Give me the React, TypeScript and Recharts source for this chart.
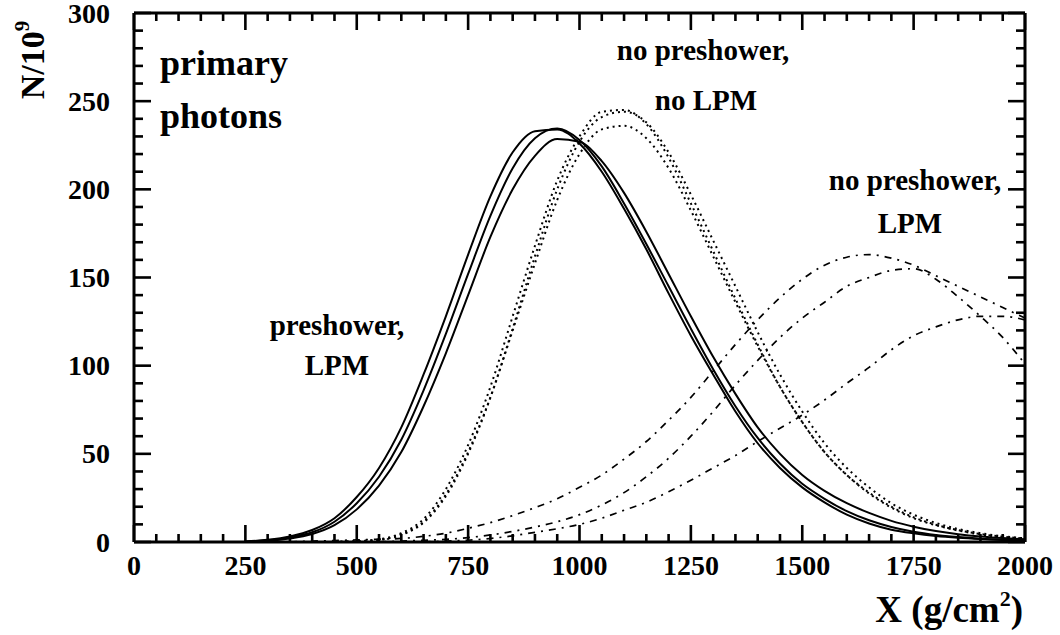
import { LineChart, Line, XAxis, YAxis, ReferenceLine, Customized } from 'recharts'

// depth grid (g/cm2), one row per 50
const DEPTH = [
  0, 50, 100, 150, 200, 250, 300, 350, 400, 450, 500, 550, 600, 650, 700, 750, 800, 850, 900, 950, 1000,
  1050, 1100, 1150, 1200, 1250, 1300, 1350, 1400, 1450, 1500, 1550, 1600, 1650, 1700, 1750, 1800, 1850,
  1900, 1950, 2000,
]

// preshower, LPM (solid)
const PRE_1 = [
  null, null, null, null, null, 0.3, 1.3, 3.2, 6.8, 13.5, 25.5, 42, 65, 95, 128, 163, 196, 221, 233, 234, 226,
  210, 189, 166, 141, 117, 95, 74, 56, 42, 31, 22.5, 15.5, 10.5, 7, 4.9, 3.4, 2.4, 1.7, 1.2, 0.8,
]
const PRE_2 = [
  null, null, null, null, null, 0.2, 1, 2.6, 5.5, 11.5, 22, 37, 58, 86, 118, 152, 185, 212, 229, 234.5, 228,
  213, 192, 169, 145, 121, 98, 77, 59, 44.5, 33, 24.5, 17.5, 12.3, 8.5, 5.8, 4, 2.8, 1.9, 1.3, 0.9,
]
const PRE_3 = [
  null, null, null, null, null, 0.1, 0.7, 2, 4.5, 9.5, 18.5, 32, 51, 77, 107, 140, 173, 200, 219, 228.5, 227,
  216, 198, 176, 152, 128, 105, 84, 65, 50, 38, 29, 22, 16.5, 12, 8.7, 6.2, 4.4, 3.1, 2.2, 1.5,
]

// no preshower, no LPM (dotted)
const NOLPM_1 = [
  null, null, null, null, null, null, null, null, null, 0, 0.5, 1.5, 5, 13, 30, 55, 88, 128, 168, 205, 230,
  244, 245, 237, 218, 192, 165, 138, 112, 88, 68, 51, 38, 27.5, 19.5, 13.5, 9.5, 6.5, 4.3, 2.8, 1.8,
]
const NOLPM_2 = [
  null, null, null, null, null, null, null, null, null, 0, 0.4, 1.2, 4, 11, 26, 50, 82, 121, 162, 200, 227,
  241, 244, 238, 221, 197, 171, 145, 119, 95, 74, 56, 42, 31, 22, 15.5, 10.8, 7.4, 5, 3.3, 2.1,
]
const NOLPM_3 = [
  null, null, null, null, null, null, null, null, null, 0, 0.4, 1.3, 4.3, 11.5, 27, 51, 82, 120, 158, 194, 220,
  234, 236, 229, 212, 188, 162, 136, 111, 88, 68, 51, 38, 28, 20, 14, 9.8, 6.7, 4.5, 3, 1.9,
]

// no preshower, LPM (dash-dot)
const LPM_1 = [
  null, null, null, null, null, null, null, 0, 0.5, 0.8, 1.2, 1.6, 2, 3.2, 5, 7.8, 11, 15, 19.5, 24.5, 31,
  38, 47, 57, 69, 82, 97, 112, 126, 138.5, 149, 157, 161.5, 163, 161, 157, 151, 145, 139, 133, 127,
]
const LPM_2 = [
  null, null, null, null, null, null, null, null, null, null, null, 0, 0.5, 1, 1.5, 2.5, 4, 6, 8.5, 11.5, 15.5,
  21, 28, 37, 47.5, 60, 74, 89, 103, 116, 127, 136, 145, 150, 154, 155, 149, 139, 128, 116, 101,
]
const LPM_3 = [
  null, null, null, null, null, null, null, null, null, null, null, null, null, 0, 0.5, 1, 2, 3.5, 5.5, 7.5, 10,
  13.5, 18, 22.5, 28.5, 35, 42, 49, 57, 64.5, 72, 80.5, 90, 99, 109, 117, 122, 126, 128, 128, 126,
]

const X_MINOR = DEPTH
const X_LABELS = [0, 250, 500, 750, 1000, 1250, 1500, 1750, 2000]
const Y_MINOR = Array.from({ length: 31 }, (_, i) => i * 10)
const Y_LABELS = [0, 50, 100, 150, 200, 250, 300]

const DATA = DEPTH.map((x, i) => ({
  x,
  p1: PRE_1[i],
  p2: PRE_2[i],
  p3: PRE_3[i],
  n1: NOLPM_1[i],
  n2: NOLPM_2[i],
  n3: NOLPM_3[i],
  l1: LPM_1[i],
  l2: LPM_2[i],
  l3: LPM_3[i],
}))

const W = 1060
const H = 635
const LEFT = 134
const TOP = 13
const RIGHT = 1025
const BOTTOM = 542
const X_AXIS_H = 30
const Y_AXIS_W = 60
const FONT = '"Liberation Serif", "Times New Roman", serif'
const TW = 2.6 // tick thickness

function XLabel({ x, payload }: any) {
  return (
    <text x={x} y={575} textAnchor="middle" fontFamily={FONT} fontWeight="bold" fontSize={28} fill="#000">
      {payload.value}
    </text>
  )
}

function YLabel({ y, payload }: any) {
  return (
    <text x={110} y={y + 9.5} textAnchor="end" fontFamily={FONT} fontWeight="bold" fontSize={28} fill="#000">
      {payload.value}
    </text>
  )
}

// inward ticks on all four edges of the frame, laid over the chart as filled bars
function FrameTicks() {
  const sx = (RIGHT - LEFT) / 2000
  const sy = (BOTTOM - TOP) / 300
  return (
    <svg
      width={W}
      height={H}
      style={{ position: 'absolute', left: 0, top: 0, pointerEvents: 'none' }}
    >
      {X_MINOR.map((v) => {
        const px = LEFT + v * sx
        const len = X_LABELS.includes(v) ? 17 : 8
        return (
          <g key={`x${v}`} fill="#000">
            <rect x={px - TW / 2} y={TOP} width={TW} height={len} />
            <rect x={px - TW / 2} y={BOTTOM - len} width={TW} height={len} />
          </g>
        )
      })}
      {Y_MINOR.map((v) => {
        const py = BOTTOM - v * sy
        const len = Y_LABELS.includes(v) ? 17 : 9
        return (
          <g key={`y${v}`} fill="#000">
            <rect x={LEFT} y={py - TW / 2} width={len} height={TW} />
            <rect x={RIGHT - len} y={py - TW / 2} width={len} height={TW} />
          </g>
        )
      })}
    </svg>
  )
}

function Annotations() {
  const t = { fontFamily: FONT, fontWeight: 'bold' as const, fill: '#000' }
  return (
    <g>
      <text {...t} x={160} y={75} fontSize={36}>primary</text>
      <text {...t} x={160} y={128} fontSize={36}>photons</text>
      <text {...t} x={703} y={60} fontSize={29} textAnchor="middle">no preshower,</text>
      <text {...t} x={706} y={110} fontSize={29} textAnchor="middle">no LPM</text>
      <text {...t} x={915} y={190} fontSize={29} textAnchor="middle">no preshower,</text>
      <text {...t} x={910} y={233} fontSize={29} textAnchor="middle">LPM</text>
      <text {...t} x={337} y={335} fontSize={29} textAnchor="middle">preshower,</text>
      <text {...t} x={337} y={375} fontSize={29} textAnchor="middle">LPM</text>
      <text {...t} x={1023} y={622} fontSize={37} textAnchor="end">
        X (g/cm<tspan fontSize={22} dy={-16}>2</tspan>
        <tspan dy={16}>)</tspan>
      </text>
      <text {...t} x={44} y={60} fontSize={34} textAnchor="middle" transform="rotate(-90 44 60)">
        N/10<tspan fontSize={21} dy={-15}>9</tspan>
      </text>
    </g>
  )
}

const SOLID = { stroke: '#000', strokeWidth: 2, dot: false, isAnimationActive: false, type: 'monotone' as const }
const DOTTED = { ...SOLID, strokeWidth: 2, strokeDasharray: '2 4' }
const DASHDOT = { ...SOLID, strokeWidth: 1.7, strokeDasharray: '7 6 2 6' }

export default function App() {
  return (
    <div style={{ position: 'absolute', left: 0, top: 0, width: W, height: H, background: '#fff' }}>
      <LineChart
        width={W}
        height={H}
        data={DATA}
        margin={{ top: TOP, right: W - RIGHT, bottom: H - BOTTOM - X_AXIS_H, left: LEFT - Y_AXIS_W }}
      >
        <XAxis
          dataKey="x"
          type="number"
          domain={[0, 2000]}
          ticks={X_LABELS}
          interval={0}
          height={X_AXIS_H}
          tickLine={false}
          axisLine={false}
          tick={<XLabel />}
        />
        <YAxis
          type="number"
          domain={[0, 300]}
          ticks={Y_LABELS}
          interval={0}
          width={Y_AXIS_W}
          tickLine={false}
          axisLine={false}
          tick={<YLabel />}
        />
        <ReferenceLine y={0} stroke="#000" strokeWidth={3} />
        <ReferenceLine x={0} stroke="#000" strokeWidth={3} />
        <ReferenceLine y={300} stroke="#000" strokeWidth={3} />
        <ReferenceLine x={2000} stroke="#000" strokeWidth={3} />
        <Line dataKey="p1" {...SOLID} />
        <Line dataKey="p2" {...SOLID} />
        <Line dataKey="p3" {...SOLID} />
        <Line dataKey="n1" {...DOTTED} />
        <Line dataKey="n2" {...DOTTED} />
        <Line dataKey="n3" {...DOTTED} />
        <Line dataKey="l1" {...DASHDOT} />
        <Line dataKey="l2" {...DASHDOT} />
        <Line dataKey="l3" {...DASHDOT} />
        <Customized component={<Annotations />} />
      </LineChart>
      <FrameTicks />
    </div>
  )
}
